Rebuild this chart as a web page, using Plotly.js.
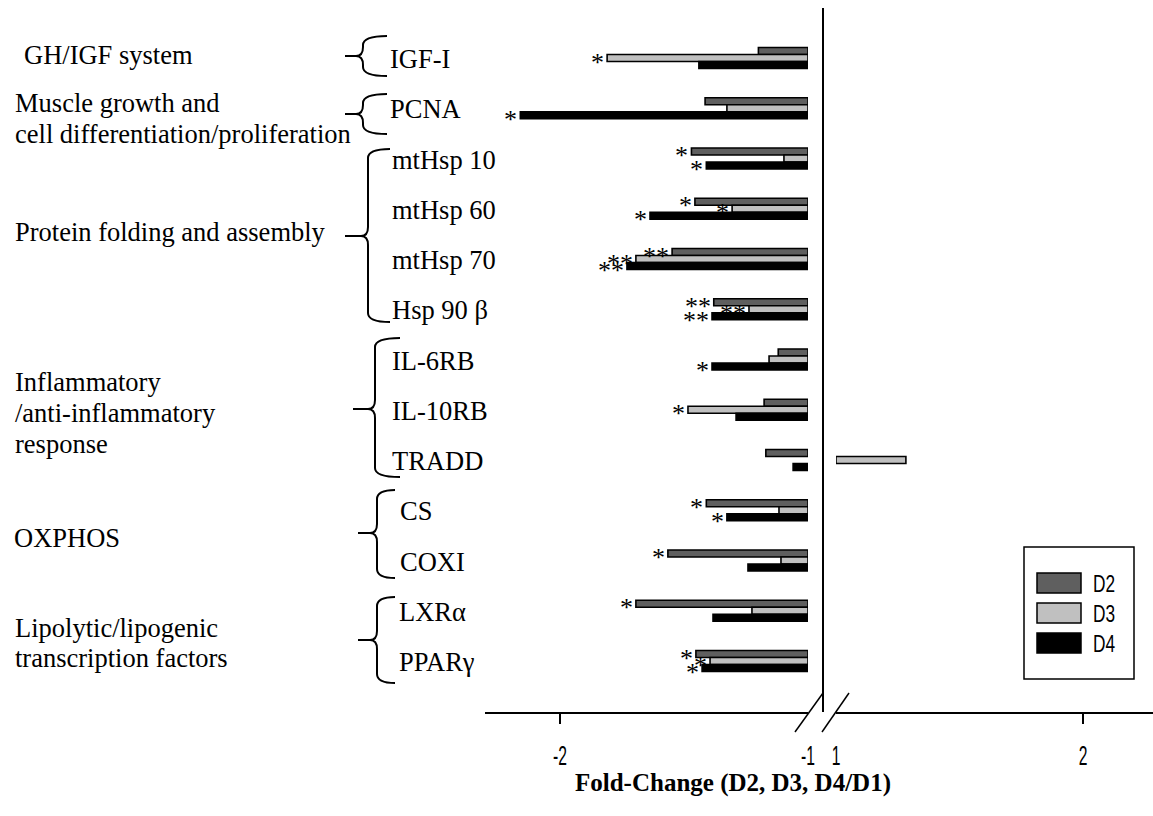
<!DOCTYPE html>
<html>
<head>
<meta charset="utf-8">
<script src="https://cdn.plot.ly/plotly-3.0.1.min.js"></script>
<style>html,body{margin:0;padding:0;background:#fff;}#chart{width:1153px;height:816px;}</style>
</head>
<body>
<div id="chart"></div>
<script>
// ---------------- data ----------------
const categories = ['IGF-I','PCNA','mtHsp 10','mtHsp 60','mtHsp 70','Hsp 90 β','IL-6RB','IL-10RB','TRADD','CS','COXI','LXRα','PPARγ'];
const seriesNames = ['D2','D3','D4'];
const d2Values = [-1.20,-1.415,-1.47,-1.456,-1.548,-1.38,-1.12,-1.177,-1.17,-1.41,-1.565,-1.694,-1.452];
const d3Values = [-1.81,-1.327,-1.097,-1.306,-1.694,-1.238,-1.157,-1.484,1.283,-1.117,-1.109,-1.226,-1.395];
const d4Values = [-1.44,-2.16,-1.41,-1.637,-1.73,-1.387,-1.387,-1.29,-1.06,-1.327,-1.242,-1.383,-1.427];
const d2Signif = ['','','*','*','**','**','','','','*','*','*','*'];
const d3Signif = ['*','','','*','**','**','','*','','','','','*'];
const d4Signif = ['','*','*','*','**','**','*','','','*','','','*'];
const groupTitles = [['GH/IGF system'],['Muscle growth and','cell differentiation/proliferation'],['Protein folding and assembly'],['Inflammatory','/anti-inflammatory','response'],['OXPHOS'],['Lipolytic/lipogenic','transcription factors']];
const groupMembers = [[0,0],[1,1],[2,5],[6,8],[9,10],[11,12]];
const leftTicks = [-2,-1];
const rightTicks = [1,2];
const xTitle = 'Fold-Change (D2, D3, D4/D1)';

// ---------------- styles ----------------
const seriesValues = [d2Values,d3Values,d4Values];
const seriesSignif = [d2Signif,d3Signif,d4Signif];
const seriesColors = ['#5f5f5f','#c0c0c0','#000000'];
const serif = 'Liberation Serif, Times New Roman, serif';
const sans = 'Liberation Sans, Arial, sans-serif';

const L=485, R=1153, T=8, B=712;
const px = x => (x-L)/(R-L);
const py = y => (B-y)/(B-T);
const leftScale = 248, rightScale = 247;
const barOffsetPx = [7,0,-7];

const idx = categories.map((c,i)=>i);
const traces = [];
seriesNames.forEach((name,s)=>{
  const vals = seriesValues[s];
  traces.push({
    type:'bar', orientation:'h', name:name, offsetgroup:name,
    y: idx, x: vals.map(v => v<0 ? v-(-1) : null), base:-1,
    xaxis:'x', yaxis:'y',
    marker:{color:seriesColors[s], line:{color:'#000', width:1.6}},
    showlegend:false, hoverinfo:'name+text', text: categories, textposition:'none'
  });
  traces.push({
    type:'bar', orientation:'h', name:name, offsetgroup:name,
    y: idx, x: vals.map(v => v>0 ? v-1 : null), base:1,
    xaxis:'x2', yaxis:'y',
    marker:{color:seriesColors[s], line:{color:'#000', width:1.6}},
    showlegend:false, hoverinfo:'name+text', text: categories, textposition:'none'
  });
});

const annotations = [];
// category labels
const labelX = [388,388,390,390,398,397];
groupMembers.forEach((m,g)=>{
  for(let i=m[0];i<=m[1];i++){
    annotations.push({xref:'paper', yref:'y', x:px(labelX[g]), y:i, xanchor:'left', yanchor:'middle', yshift:-1,
      text:categories[i], showarrow:false, font:{family:serif, size:26.5, color:'#000'}});
  }
});
// group titles (line centres in px)
const titleX = [22,13,13,13,12,13];
const titleY = [[55],[103,134],[232],[382,413,444],[538],[628,658]];
groupTitles.forEach((lines,g)=>{
  lines.forEach((t,k)=>{
    annotations.push({xref:'paper', yref:'paper', x:px(titleX[g]), y:py(titleY[g][k]), xanchor:'left', yanchor:'middle',
      text:t, showarrow:false, font:{family:serif, size:26.5, color:'#000'}});
  });
});
// significance marks
seriesNames.forEach((name,s)=>{
  seriesSignif[s].forEach((sg,i)=>{
    const v = seriesValues[s][i];
    if(!sg || v>0) return;
    annotations.push({xref:'x', yref:'y', x:v, y:i, xanchor:'right', yanchor:'middle', xshift:-1,
      yshift: barOffsetPx[s]-4, text:sg, showarrow:false, font:{family:serif, size:26, color:'#000'}});
  });
});
// axis title
annotations.push({xref:'paper', yref:'paper', x:px(733), y:py(783), xanchor:'center', yanchor:'middle',
  text:'<b>'+xTitle+'</b>', showarrow:false, font:{family:serif, size:25, color:'#000'}});
// legend text
const legRows = [583,613,643];
seriesNames.forEach((n,s)=>{
  annotations.push({xref:'paper', yref:'paper', x:px(1091), y:py(legRows[s]), xanchor:'left', yanchor:'middle',
    text:n, showarrow:false, font:{family:sans, size:24, color:'#000'}});
});

const shapes = [];
// vertical axis line
shapes.push({type:'line', xref:'paper', yref:'paper', x0:px(823), x1:px(823), y0:0, y1:1, line:{color:'#000', width:2}});
// break marks
shapes.push({type:'line', xref:'paper', yref:'paper', x0:px(795), y0:py(732), x1:px(823), y1:py(693), line:{color:'#000', width:1.5}});
shapes.push({type:'line', xref:'paper', yref:'paper', x0:px(822), y0:py(732), x1:px(849), y1:py(693), line:{color:'#000', width:1.5}});
// braces
function brace(tipX, tipY, spineX, hookX, top, bottom){
  const r = 9, m = spineX-7;
  const P = (x,y)=> px(x)+','+py(y);
  return 'M'+P(hookX,top)+' Q'+P(spineX,top)+' '+P(spineX,top+r)+
    ' L'+P(spineX,tipY-r)+' Q'+P(spineX,tipY)+' '+P(m,tipY)+' L'+P(tipX,tipY)+
    ' M'+P(m,tipY)+' Q'+P(spineX,tipY)+' '+P(spineX,tipY+r)+
    ' L'+P(spineX,bottom-r)+' Q'+P(spineX,bottom)+' '+P(hookX,bottom);
}
const braceDefs = [[345,56,363,387,36,76],[345,114,363,387,94,134],[345,236,368,390,149,322],[353,409,375,400,338,477],[358,533,377,395,490,578],[358,640,377,395,597,683]];
braceDefs.forEach(b=>{
  shapes.push({type:'path', xref:'paper', yref:'paper', path:brace(...b), line:{color:'#000', width:2}});
});
// legend box
shapes.push({type:'rect', xref:'paper', yref:'paper', x0:px(1024), x1:px(1134), y0:py(679), y1:py(547), line:{color:'#000', width:1.5}, fillcolor:'rgba(0,0,0,0)'});
seriesNames.forEach((n,s)=>{
  shapes.push({type:'rect', xref:'paper', yref:'paper', x0:px(1037), x1:px(1081), y0:py(legRows[s]+10), y1:py(legRows[s]-10),
    line:{color:'#000', width:1.5}, fillcolor:seriesColors[s]});
});

const axisCommon = {showline:true, linecolor:'#000', linewidth:2, showgrid:false, zeroline:false, ticks:'',
  tickfont:{family:sans, size:27, color:'#000'}, tickmode:'array', anchor:'y', fixedrange:true,
  ticklabelstandoff: 19};
const layout = {
  width:1153, height:816,
  margin:{l:L, r:1153-R, t:T, b:816-B, pad:0},
  paper_bgcolor:'#fff', plot_bgcolor:'rgba(0,0,0,0)',
  barmode:'group', bargap:0.58, bargroupgap:0,
  showlegend:false,
  xaxis: Object.assign({}, axisCommon, {domain:[0, px(808)], range:[-1-(808-L)/leftScale, -1],
    tickvals:leftTicks, ticktext:leftTicks.map(String),
    minor:{tickmode:'array', tickvals:[-2], ticks:'outside', ticklen:10, tickwidth:1.5, tickcolor:'#000', showgrid:false}}),
  xaxis2: Object.assign({}, axisCommon, {domain:[px(836), 1], range:[1, 1+(R-836)/rightScale],
    tickvals:rightTicks, ticktext:rightTicks.map(String),
    minor:{tickmode:'array', tickvals:[2], ticks:'outside', ticklen:10, tickwidth:1.5, tickcolor:'#000', showgrid:false}}),
  yaxis:{range:[13.015,-0.995], showline:false, showticklabels:false, showgrid:false, zeroline:false, ticks:'', fixedrange:true},
  annotations: annotations,
  shapes: shapes
};
Plotly.newPlot('chart', traces, layout, {displayModeBar:false, staticPlot:true}).then(gd=>{
  // condensed look of the sans-serif texts (tick labels, legend labels)
  const squeeze = (t, k, anchor) => {
    const bb = t.getBBox();
    const cx = anchor==='left' ? bb.x : bb.x + bb.width/2;
    const prev = t.getAttribute('transform') || '';
    t.setAttribute('transform', prev + ' translate('+cx+',0) scale('+k+',1) translate('+(-cx)+',0)');
  };
  gd.querySelectorAll('.xtick text, .x2tick text').forEach(t=>squeeze(t,0.58,'center'));
  gd.querySelectorAll('.annotation-text').forEach(t=>{ if(seriesNames.indexOf(t.textContent)>=0) squeeze(t,0.72,'left'); });
});
</script>
</body>
</html>
